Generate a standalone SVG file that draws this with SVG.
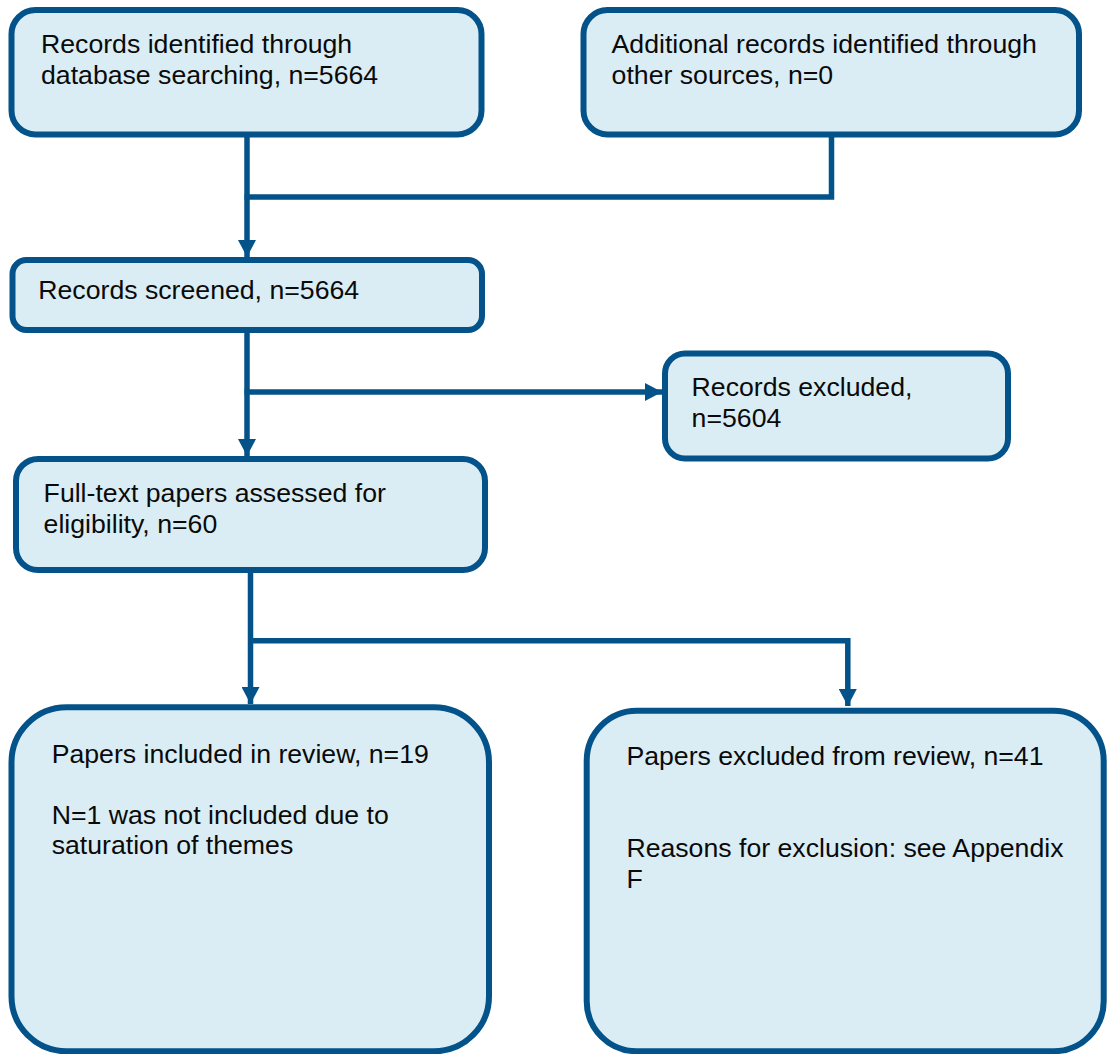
<svg xmlns="http://www.w3.org/2000/svg" width="1107" height="1054" viewBox="0 0 1107 1054">
<style>
.box{fill:#DAEDF4;stroke:#03538A;stroke-width:6}
.lbl{font-family:"Liberation Sans",Arial,sans-serif;font-size:26.67px;fill:#0a0a0a}
.con{fill:none;stroke:#03538A;stroke-width:5.5}
</style>
<defs>
<marker id="ah" markerUnits="userSpaceOnUse" markerWidth="18" markerHeight="18" viewBox="0 0 17 18" refX="17" refY="9" orient="auto">
<path d="M0,0 L17,9 L0,18 z" fill="#03538A"/>
</marker>
</defs>
<rect width="1107" height="1054" fill="#fff"/>
<g id="connectors">
<line class="con" x1="247" y1="136" x2="247" y2="257" marker-end="url(#ah)"/>
<polyline class="con" points="831.5,136 831.5,197 244.5,197"/>
<line class="con" x1="247" y1="332" x2="247" y2="456" marker-end="url(#ah)"/>
<line class="con" x1="244.5" y1="392" x2="662" y2="392" marker-end="url(#ah)"/>
<line class="con" x1="250.5" y1="572" x2="250.5" y2="704" marker-end="url(#ah)"/>
<polyline class="con" points="248,640.7 847.8,640.7 847.8,706" marker-end="url(#ah)"/>
</g>
<g id="n1">
<rect class="box" x="11.5" y="10" width="470" height="124.5" rx="24"/>
<text class="lbl" x="41" y="53.3">Records identified through</text>
<text class="lbl" x="41" y="83.7">database searching, n=5664</text>
</g>
<g id="n2">
<rect class="box" x="583.5" y="10" width="495.5" height="124.5" rx="24"/>
<text class="lbl" x="611.6" y="53.3">Additional records identified through</text>
<text class="lbl" x="611.6" y="83.7">other sources, n=0</text>
</g>
<g id="n3">
<rect class="box" x="12.5" y="260" width="469.5" height="70" rx="14"/>
<text class="lbl" x="38.3" y="299.3">Records screened, n=5664</text>
</g>
<g id="n4">
<rect class="box" x="665" y="353.5" width="343" height="105" rx="20"/>
<text class="lbl" x="691.6" y="396">Records excluded,</text>
<text class="lbl" x="691.6" y="427">n=5604</text>
</g>
<g id="n5">
<rect class="box" x="16" y="459" width="469" height="111" rx="22"/>
<text class="lbl" x="43.6" y="501.7">Full-text papers assessed for</text>
<text class="lbl" x="43.6" y="532.7">eligibility, n=60</text>
</g>
<g id="n6">
<rect class="box" x="11.5" y="707.3" width="477.5" height="344" rx="55"/>
<text class="lbl" x="51.7" y="762.7">Papers included in review, n=19</text>
<text class="lbl" x="51.7" y="823.7">N=1 was not included due to</text>
<text class="lbl" x="51.7" y="854.3">saturation of themes</text>
</g>
<g id="n7">
<rect class="box" x="586.7" y="710.7" width="517" height="340.5" rx="50"/>
<text class="lbl" x="626.4" y="765">Papers excluded from review, n=41</text>
<text class="lbl" x="626.4" y="856.7">Reasons for exclusion: see Appendix</text>
<text class="lbl" x="626.4" y="887.7">F</text>
</g>
</svg>
